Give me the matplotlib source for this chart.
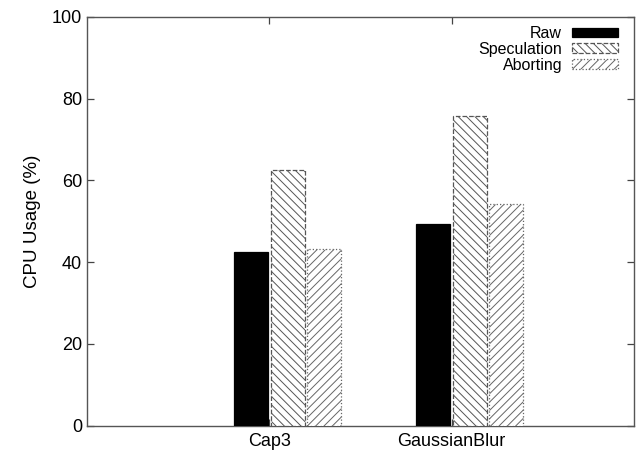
import matplotlib
matplotlib.use("Agg")
import matplotlib.pyplot as plt
import numpy as np

# ── Data ──────────────────────────────────────────────────────────────────────

apps = ["Cap3", "GaussianBlur"]
series = ["Raw", "Speculation", "Aborting"]
raw = [42.4, 49.3]
speculation = [62.6, 75.7]
aborting = [43.2, 54.2]

# ── Style (gnuplot-like patterns) ─────────────────────────────────────────────

STYLE = {
    "Raw":         {"facecolor": "black", "edgecolor": "black", "hatch": None, "ls": "-"},
    "Speculation": {"facecolor": "white", "edgecolor": "#555555", "hatch": "\\\\\\\\", "ls": "--"},
    "Aborting":    {"facecolor": "white", "edgecolor": "#666666", "hatch": "////", "ls": ":"},
}

plt.rcParams["font.family"] = ["Liberation Sans", "DejaVu Sans"]
plt.rcParams["hatch.linewidth"] = 0.7

fig = plt.figure(figsize=(6.43, 4.53), dpi=100)
ax = fig.add_axes([0.1353, 0.0603, 0.8507, 0.9022])

x = np.arange(len(apps))
width = 0.186
offsets = [-0.1, 0.1, 0.3]

for name, vals, off in zip(series, [raw, speculation, aborting], offsets):
    st = STYLE[name]
    ax.bar(x + off, vals, width=width, color=st["facecolor"],
           edgecolor=st["edgecolor"], hatch=st["hatch"], linestyle=st["ls"],
           linewidth=0.9, label=name, zorder=3)

ax.set_xlim(-1.0, 2.0)
ax.set_ylim(0, 100)
ax.set_yticks([0, 20, 40, 60, 80, 100])
ax.set_xticks(x)
ax.set_xticklabels(apps)
ax.set_ylabel("CPU Usage (%)", fontsize=13.5, labelpad=8)

ax.tick_params(axis="both", direction="in", labelsize=13, color="#444444",
               top=True, right=True, length=5, width=0.9)
ax.tick_params(axis="x", pad=5)
for sp in ax.spines.values():
    sp.set_color("#555555")
    sp.set_linewidth(1.0)

ax.legend(loc="upper right", bbox_to_anchor=(1.0, 1.017), frameon=False,
          markerfirst=False, fontsize=11.5, handlelength=2.9, handleheight=0.55,
          labelspacing=0.05, borderaxespad=0.6, handletextpad=0.6)

fig.savefig("out.png", dpi=100)
